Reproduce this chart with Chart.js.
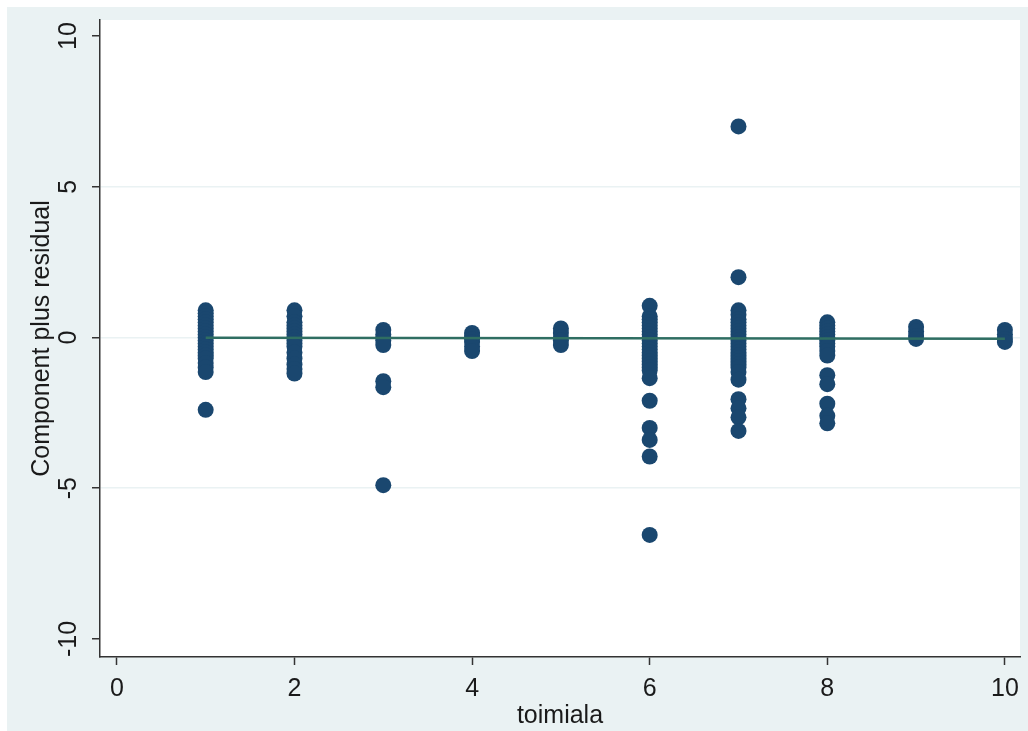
<!DOCTYPE html>
<html>
<head>
<meta charset="utf-8">
<script src="https://cdn.jsdelivr.net/npm/chart.js@4.4.1/dist/chart.umd.min.js"></script>
<style>
    body { margin: 0; background: #ffffff; }
    #wrap { position: absolute; left: 7px; top: 7px; width: 1021px; height: 724px; background: #eaf2f3; }
</style>
</head>
<body>
<div id="wrap"><canvas id="cpr"></canvas></div>
<script>
// residuals, one array per category of toimiala
const resid1 = [0.9, 0.8, 0.7, 0.6, 0.5, 0.4, 0.3, 0.2, 0.1, 0, -0.1, -0.2, -0.3, -0.4, -0.5, -0.6, -0.7, -0.85, -1.0, -1.15, -2.4];
const resid2 = [0.9, 0.7, 0.5, 0.4, 0.3, 0.2, 0.1, 0, -0.1, -0.2, -0.3, -0.5, -0.7, -0.9, -1.05, -1.2];
const resid3 = [0.25, 0.1, 0, -0.1, -0.25, -1.45, -1.65, -4.9];
const resid4 = [0.15, 0.05, -0.05, -0.15, -0.3, -0.45];
const resid5 = [0.3, 0.15, 0, -0.1, -0.25];
const resid6 = [1.05, 0.7, 0.6, 0.5, 0.4, 0.3, 0.2, 0.1, 0, -0.1, -0.2, -0.3, -0.4, -0.5, -0.6, -0.7, -0.8, -0.9, -1.0, -1.1, -1.35, -2.1, -3.0, -3.4, -3.95, -6.55];
const resid7 = [7.0, 2.0, 0.9, 0.75, 0.6, 0.5, 0.4, 0.3, 0.2, 0.1, 0, -0.1, -0.2, -0.3, -0.4, -0.5, -0.6, -0.7, -0.8, -0.9, -1.0, -1.15, -1.4, -2.05, -2.35, -2.65, -3.1];
const resid8 = [0.5, 0.4, 0.3, 0.2, 0.1, 0, -0.1, -0.2, -0.3, -0.45, -0.6, -1.25, -1.55, -2.2, -2.6, -2.85];
const resid9 = [0.35, 0.2, 0.05, -0.05];
const resid10 = [0.25, 0.1, -0.05, -0.15];

const categories = [1, 2, 3, 4, 5, 6, 7, 8, 9, 10];
const residGroups = [resid1, resid2, resid3, resid4, resid5, resid6, resid7, resid8, resid9, resid10];

// fitted component line
const fitX = [1, 10];
const fitY = [-0.01, -0.04];

const xTicks = [0, 2, 4, 6, 8, 10];
const yTicks = [-10, -5, 0, 5, 10];

let points = [];
categories.forEach(function (c, i) {
    residGroups[i].forEach(function (v) {
        points.push({x: c, y: v});
    });
});

const fitLine = fitX.map(function (x, i) { return {x: x, y: fitY[i]}; });

const font = "'Liberation Sans', Arial, sans-serif";
const ink = '#1a1a1a';

const plotBg = {
    id: 'plotBg',
    beforeDraw(chart) {
        const a = chart.chartArea;
        const ctx = chart.ctx;
        ctx.save();
        ctx.fillStyle = '#ffffff';
        ctx.fillRect(a.left, a.top, a.right - a.left, a.bottom - a.top);
        ctx.restore();
    }
};

// Stata draws the y tick labels turned on their side
const sideLabels = {
    id: 'sideLabels',
    afterDraw(chart) {
        const y = chart.scales.y;
        const ctx = chart.ctx;
        ctx.save();
        ctx.font = '25px ' + font;
        ctx.fillStyle = ink;
        ctx.textAlign = 'center';
        ctx.textBaseline = 'middle';
        yTicks.forEach(function (v) {
            ctx.save();
            ctx.translate(62, y.getPixelForValue(v));
            ctx.rotate(-Math.PI / 2);
            ctx.fillText(String(v), 0, 0);
            ctx.restore();
        });
        ctx.restore();
    }
};

new Chart(document.getElementById('cpr'), {
    type: 'scatter',
    data: {
        datasets: [
            {
                type: 'line',
                data: fitLine,
                borderColor: '#2f6e62',
                borderWidth: 2.5,
                pointRadius: 0,
                order: 0
            },
            {
                data: points,
                backgroundColor: '#1a476f',
                borderWidth: 0,
                pointRadius: 8,
                order: 1
            }
        ]
    },
    plugins: [plotBg, sideLabels],
    options: {
        responsive: true,
        maintainAspectRatio: false,
        animation: false,
        layout: {padding: {top: 13, right: 4, left: 0, bottom: 0}},
        plugins: {legend: {display: false}, tooltip: {enabled: false}},
        scales: {
            x: {
                type: 'linear',
                min: -0.19,
                max: 10.17,
                afterBuildTicks: function (s) { s.ticks = xTicks.map(function (v) { return {value: v}; }); },
                afterFit: function (s) { s.height = 74; s.paddingLeft = 0; s.paddingRight = 0; },
                border: {color: '#333333', width: 1.5},
                grid: {drawOnChartArea: false, tickLength: 8, tickColor: '#333333', tickWidth: 1.5},
                ticks: {color: ink, font: {family: font, size: 25}, padding: 9, maxRotation: 0},
                title: {display: true, text: 'toimiala', color: ink, font: {family: font, size: 25}, padding: {top: 0, bottom: 0}}
            },
            y: {
                min: -10.6,
                max: 10.53,
                afterBuildTicks: function (s) { s.ticks = yTicks.map(function (v) { return {value: v}; }); },
                afterFit: function (s) { s.width = 93; s.paddingTop = 0; s.paddingBottom = 0; },
                border: {color: '#333333', width: 1.5},
                grid: {
                    color: function (c) { return Math.abs(c.tick.value) === 10 ? 'rgba(0,0,0,0)' : '#eaf2f3'; },
                    lineWidth: 1.5,
                    tickLength: 8,
                    tickColor: '#333333',
                    tickWidth: 1.5
                },
                ticks: {color: 'rgba(0,0,0,0)', font: {family: font, size: 25}},
                title: {display: true, text: 'Component plus residual', color: ink, font: {family: font, size: 25}, padding: {top: 20, bottom: 0}}
            }
        }
    }
});
</script>
</body>
</html>
